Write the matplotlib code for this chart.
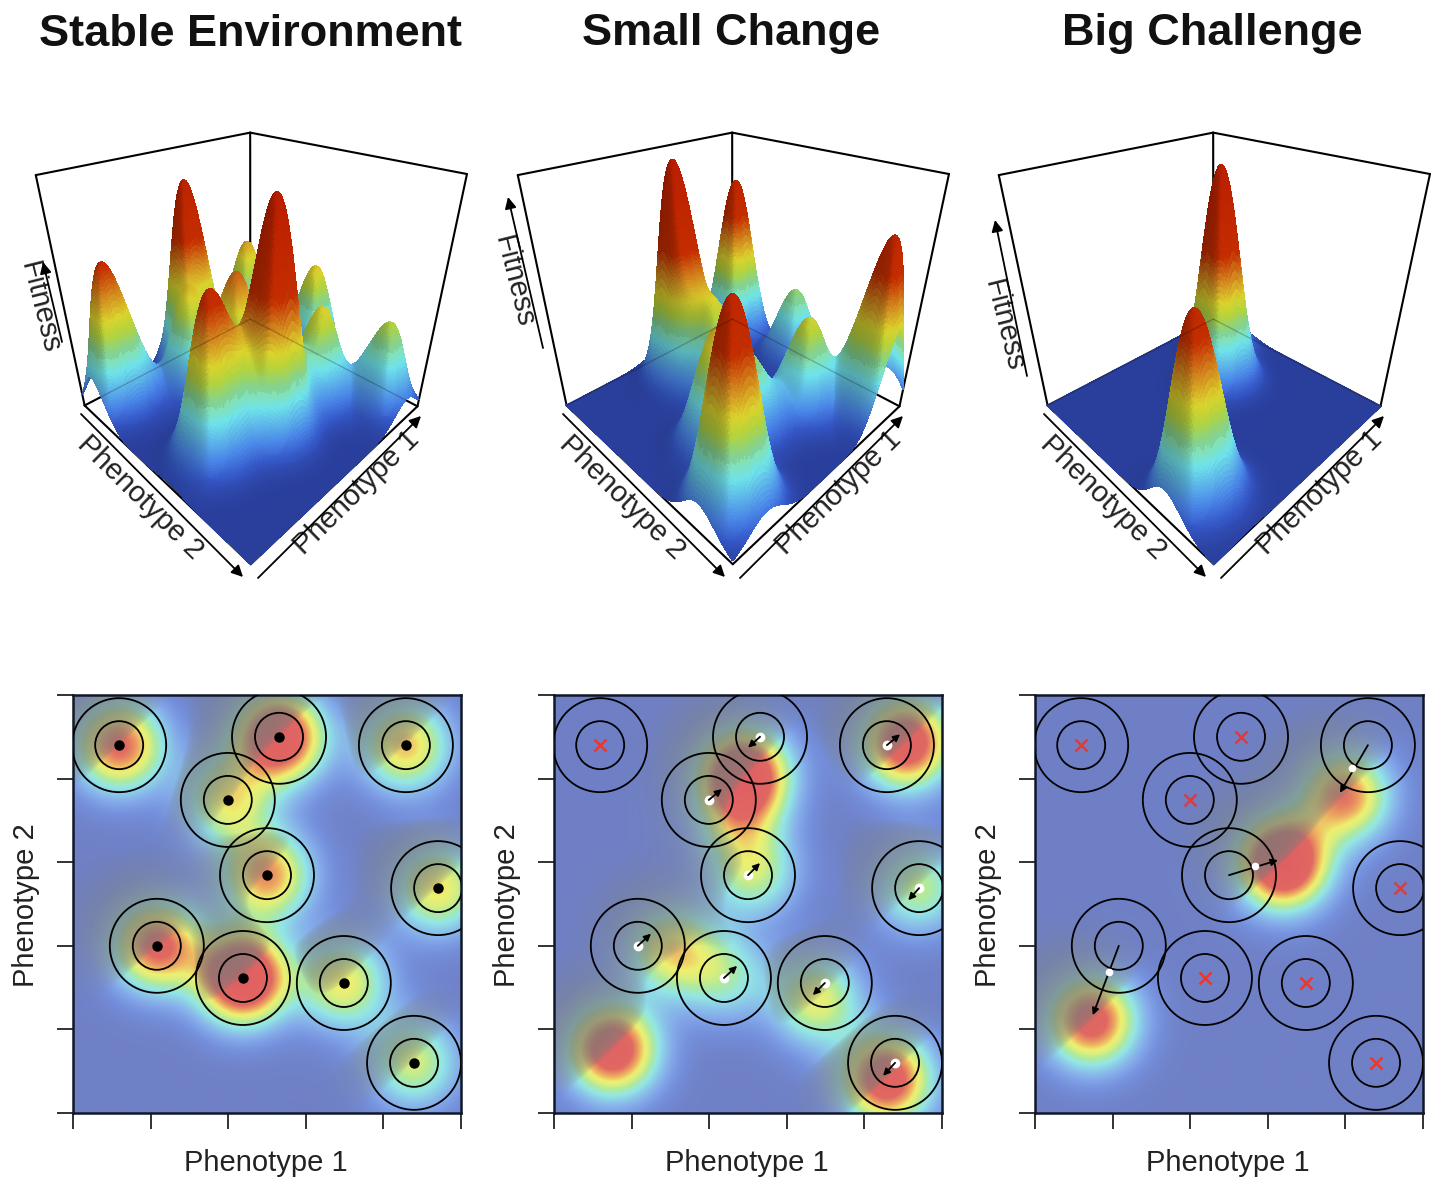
import numpy as np
import matplotlib
matplotlib.use("Agg")
import matplotlib.pyplot as plt
from matplotlib.collections import PolyCollection
from matplotlib.colors import LinearSegmentedColormap
from matplotlib.patches import Ellipse

plt.rcParams['font.family'] = ['Liberation Sans', 'DejaVu Sans']

# ---------- data ----------
titles = ["Stable Environment", "Small Change", "Big Challenge"]
xlabel = "Phenotype 1"
ylabel = "Phenotype 2"
zlabel = "Fitness"

centre_x = [.119, .531, .858, .399, .500, .941, .216, .438, .698, .879]
centre_y = [.880, .900, .880, .749, .569, .538, .400, .323, .311, .120]

peaks1_x = centre_x
peaks1_y = centre_y
peaks1_z = [.68, .88, .54, .46, .60, .50, .70, .98, .48, .42]

peaks2_x = [.150, .858, .910, .490, .300, .513, .940, .440, .678, .470]
peaks2_y = [.151, .079, .887, .810, .390, .577, .540, .330, .270, .700]
peaks2_z = [.82, .80, .82, .90, .48, .38, .38, .30, .46, .26]

peaks3_x = [.145, .640, .800]
peaks3_y = [.220, .600, .760]
peaks3_z = [.75, .98, .64]

# arrows of panel 2 (start = circle centre) and panel 3
tips2_idx = [1, 2, 3, 4, 5, 6, 7, 8, 9]
tips2_x = [.500, .892, .433, .531, .913, .250, .472, .667, .848]
tips2_y = [.874, .906, .775, .598, .509, .429, .352, .282, .089]
tips3_idx = [2, 4, 6]
tips3_x = [.786, .626, .149]
tips3_y = [.766, .605, .234]
white3_x = [.817, .567, .191]
white3_y = [.825, .591, .337]

# cube corners (P1, P2, Z) and where they fall in the picture
cube_world = [(0, 0, 0), (1, 0, 0), (0, 1, 0), (1, 1, 0), (0, 1, 1), (1, 0, 1), (1, 1, 1)]
cube_pixel = [(250, 565), (418, 405), (85, 405), (250, 320), (36, 175), (467, 175), (250, 132)]

# ---------- colour ----------
zc_stops = [0, .06, .13, .27, .36, .42, .48, .57, .67, 1.0]
surf_cols = ['#2a3f9c', '#3558c8', '#4a86e8', '#6fe3ea', '#90e090', '#c0e040', '#e8e030', '#e09020', '#d03000', '#c82000']
heat_cols = ['#6f80c6', '#7590dc', '#84aaea', '#93e6e6', '#b0ea9c', '#d8ee80', '#eef070', '#eda860', '#e06862', '#e06062']
surf_cmap = LinearSegmentedColormap.from_list('surf', list(zip(zc_stops, surf_cols)), N=1024)
heat_cmap = LinearSegmentedColormap.from_list('heat', list(zip(zc_stops, heat_cols)), N=1024)

SX, SY = .08, .075


def landscape(px, py, pz, n):
    xs = np.linspace(0, 1, n)
    ys = np.linspace(0, 1, n)
    X, Y = np.meshgrid(xs, ys)
    Z = np.zeros_like(X)
    for a, b, c in zip(px, py, pz):
        Z += c * np.exp(-(X - a) ** 2 / (2 * SX ** 2) - (Y - b) ** 2 / (2 * SY ** 2))
    gy, gx = np.gradient(Z, ys, xs)
    slope = np.clip((gx - gy) / np.sqrt(2), 0, None)
    shade = slope / (slope + 1.2)
    return X, Y, Z, shade


def fit_homography(world, pixel):
    rows = []
    for (a, b, c), (u, v) in zip(world, pixel):
        rows.append([a, b, c, 1, 0, 0, 0, 0, -u * a, -u * b, -u * c, -u])
        rows.append([0, 0, 0, 0, a, b, c, 1, -v * a, -v * b, -v * c, -v])
    P = np.linalg.svd(np.array(rows, float))[2][-1].reshape(3, 4)
    if P[2] @ np.array([.5, .5, .5, 1]) < 0:
        P = -P
    return P


P = fit_homography(cube_world, cube_pixel)


def project(a, b, c):
    a, b, c = np.asarray(a, float), np.asarray(b, float), np.asarray(c, float)
    w = P[2, 0] * a + P[2, 1] * b + P[2, 2] * c + P[2, 3]
    u = (P[0, 0] * a + P[0, 1] * b + P[0, 2] * c + P[0, 3]) / w
    v = (P[1, 0] * a + P[1, 1] * b + P[1, 2] * c + P[1, 3]) / w
    return u, v, w


fig = plt.figure(figsize=(14.34, 11.79), dpi=100)
W, H = 1434, 1179


def add_px_axes(x0, y0, x1, y1):
    return fig.add_axes([x0 / W, 1 - y1 / H, (x1 - x0) / W, (y1 - y0) / H])


def surface_panel(off, px, py, pz, fit_line, fit_text):
    ax = add_px_axes(off, 90, off + 480, 600)
    ax.set_xlim(0, 480)
    ax.set_ylim(600, 90)
    ax.axis('off')

    def edge(p, q, **kw):
        u, v, _ = project(*np.array([p, q], float).T)
        ax.plot(u, v, color='k', solid_capstyle='round', **kw)

    for p, q in [((0, 0, 0), (1, 0, 0)), ((0, 0, 0), (0, 1, 0)), ((1, 0, 0), (1, 1, 0)), ((0, 1, 0), (1, 1, 0)),
                 ((1, 1, 0), (1, 1, 1)), ((0, 1, 0), (0, 1, 1)), ((1, 0, 0), (1, 0, 1)),
                 ((0, 1, 1), (1, 1, 1)), ((1, 0, 1), (1, 1, 1))]:
        edge(p, q, lw=1.5, zorder=1)

    X, Y, Z, shade = landscape(px, py, pz, 201)
    U, V, Wd = project(X, Y, Z)
    verts = np.stack([np.stack([U[:-1, :-1], V[:-1, :-1]], -1), np.stack([U[:-1, 1:], V[:-1, 1:]], -1),
                      np.stack([U[1:, 1:], V[1:, 1:]], -1), np.stack([U[1:, :-1], V[1:, :-1]], -1)], axis=2)
    verts = verts.reshape(-1, 4, 2)
    face = lambda A: .25 * (A[:-1, :-1] + A[:-1, 1:] + A[1:, 1:] + A[1:, :-1])
    zf, sf, wf = face(Z).ravel(), face(shade).ravel(), face(Wd).ravel()
    rgb = surf_cmap(zf)[:, :3]
    rgb *= (1 - .35 * sf)[:, None]
    rgb *= np.where(zf > .33, .94, 1.0)[:, None]
    order = np.argsort(-wf)
    ax.add_collection(PolyCollection(verts[order], facecolors=rgb[order], edgecolors=rgb[order], linewidths=.5,
                                     antialiaseds=False, zorder=2))

    # floor edges at the back show faintly through the surface
    edge((1, 0, 0), (1, 1, 0), lw=1.0, alpha=.22, zorder=3)
    edge((0, 1, 0), (1, 1, 0), lw=1.0, alpha=.22, zorder=3)

    arrow = dict(arrowstyle='-|>', color='k', lw=1.3, mutation_scale=17, shrinkA=0, shrinkB=0)
    ax.annotate('', xy=(243, 577), xytext=(81, 414), arrowprops=arrow, zorder=4)
    ax.annotate('', xy=(421, 416), xytext=(258, 578), arrowprops=arrow, zorder=4)
    ax.annotate('', xy=fit_line[1], xytext=fit_line[0], arrowprops=arrow, zorder=4)
    fs = 21
    ax.text(140, 497, ylabel, rotation=-44.5, ha='center', va='center', fontsize=fs, color='#222222', rotation_mode='anchor')
    ax.text(357, 493, xlabel, rotation=44.5, ha='center', va='center', fontsize=fs, color='#222222', rotation_mode='anchor')
    ax.text(fit_text[0], fit_text[1], zlabel, rotation=-76, ha='center', va='center', fontsize=fs, color='#222222', rotation_mode='anchor')


def heat_panel(off, px, py, pz):
    ax = add_px_axes(73 + off, 695, 461 + off, 1113)
    X, Y, Z, shade = landscape(px, py, pz, 300)
    rgb = heat_cmap(Z)[..., :3]
    a = (.85 * shade)[..., None]
    rgb = rgb * (1 - a) + np.array([.47, .47, .47]) * a
    ax.imshow(rgb, origin='lower', extent=(0, 1, 0, 1), aspect='auto', interpolation='bilinear')
    for cx, cy in zip(centre_x, centre_y):
        for r in (24, 47):
            ax.add_patch(Ellipse((cx, cy), 2 * r / 388, 2 * r / 418, fill=False, ec='k', lw=1.3, zorder=3))
    ax.set_xlim(0, 1)
    ax.set_ylim(0, 1)
    ax.set_xticks(np.arange(6) / 5)
    ax.set_yticks(np.arange(6) / 5)
    ax.tick_params(length=11.5, width=1.3, labelbottom=False, labelleft=False, color='#222222')
    for s in ax.spines.values():
        s.set_linewidth(1.8)
        s.set_color('#101828')
    fig.text((266 + off) / W, 1 - 1163 / H, xlabel, ha='center', va='center', fontsize=21, color='#222222')
    fig.text((26 + off) / W, 1 - 905 / H, ylabel, rotation=90, ha='center', va='center', fontsize=21, color='#222222')
    return ax


offs = [0, 482, 963]
panels = [(peaks1_x, peaks1_y, peaks1_z), (peaks2_x, peaks2_y, peaks2_z), (peaks3_x, peaks3_y, peaks3_z)]
fit_lines = [((62, 342), (43, 262)), ((61, 348), (26, 197)), ((64, 376), (32, 220))]
fit_texts = [(40, 308), (32, 282), (41, 326)]

for off, pk, fl, ft in zip(offs, panels, fit_lines, fit_texts):
    surface_panel(off, *pk, fl, ft)

for t, cx in zip(titles, [250, 731, 1212]):
    fig.text(cx / W, 1 - 34 / H, t, ha='center', va='center', fontsize=32.5, fontweight='bold', color='#111111')

arrow_style = dict(arrowstyle='-|>', color='k', lw=1.3, mutation_scale=10, shrinkA=0, shrinkB=0)

ax1 = heat_panel(0, *panels[0])
ax1.plot(centre_x, centre_y, 'o', color='k', ms=6.5, zorder=4, clip_on=False)

ax2 = heat_panel(481, *panels[1])
ax2.plot(centre_x[0], centre_y[0], 'x', color='#e83830', ms=9, mew=1.8, zorder=4)
ax2.plot([centre_x[i] for i in tips2_idx], [centre_y[i] for i in tips2_idx], 'o', color='white', ms=6, zorder=4)
for i, tx, ty in zip(tips2_idx, tips2_x, tips2_y):
    ax2.annotate('', xy=(tx, ty), xytext=(centre_x[i], centre_y[i]), arrowprops=arrow_style, zorder=5)

ax3 = heat_panel(962, *panels[2])
cross = [i for i in range(len(centre_x)) if i not in tips3_idx]
ax3.plot([centre_x[i] for i in cross], [centre_y[i] for i in cross], 'x', color='#e83830', ms=9, mew=1.8, ls='none', zorder=4)
for i, tx, ty in zip(tips3_idx, tips3_x, tips3_y):
    ax3.annotate('', xy=(tx, ty), xytext=(centre_x[i], centre_y[i]), arrowprops=arrow_style, zorder=5)
ax3.plot(white3_x, white3_y, 'o', color='white', ms=4.5, ls='none', zorder=6)

fig.savefig('out.png', dpi=100)
